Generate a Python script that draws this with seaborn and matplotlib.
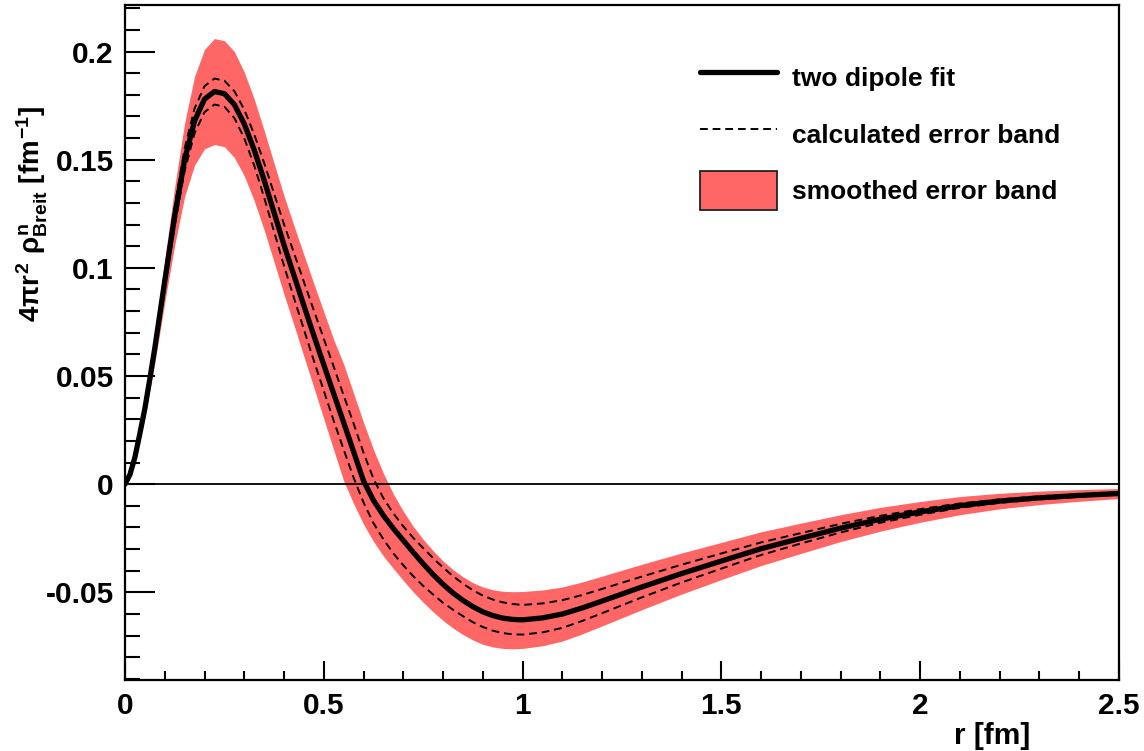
import numpy as np
import matplotlib
matplotlib.use("Agg")
import matplotlib.pyplot as plt
import seaborn as sns
from matplotlib.lines import Line2D
from matplotlib.patches import Patch
from matplotlib.ticker import MultipleLocator

# ---- data ----
r = [0.0, 0.0125, 0.025, 0.0375, 0.05, 0.0625, 0.075, 0.1, 0.125, 0.15, 0.175,
     0.2, 0.225, 0.25, 0.275,
     0.3, 0.325, 0.35, 0.375, 0.4, 0.425, 0.45, 0.475, 0.5, 0.525, 0.55, 0.575,
     0.6, 0.625, 0.65, 0.675, 0.7, 0.725, 0.75, 0.775, 0.8, 0.825, 0.85, 0.875,
     0.9, 0.925, 0.95, 0.975, 1.0, 1.05, 1.1, 1.15, 1.2, 1.3, 1.4, 1.5, 1.6,
     1.7, 1.8, 1.9, 2.0, 2.1, 2.2, 2.3, 2.4, 2.5]
fit = [0.0, 0.0045, 0.0125, 0.0235, 0.035, 0.0488, 0.063, 0.094, 0.124, 0.150,
       0.168, 0.178, 0.1815,
       0.1805, 0.1755, 0.1665, 0.1545, 0.1405, 0.1255, 0.1105, 0.0965, 0.0825,
       0.0687, 0.0552, 0.0418, 0.0285, 0.015, 0.0015, -0.0075, -0.0145,
       -0.0205, -0.026, -0.0315, -0.0368, -0.0418, -0.0463, -0.0503, -0.0537,
       -0.0566, -0.059, -0.0607, -0.0619, -0.0625, -0.0627, -0.0618, -0.0600,
       -0.0572, -0.0540, -0.0475, -0.0413, -0.0355, -0.0298, -0.0250, -0.0203,
       -0.0162, -0.0128, -0.0099, -0.0078, -0.0063, -0.0052, -0.0043]
# smoothed error band: distance of upper / lower edge from the fit
band_up = [0.0, 0.001, 0.002, 0.003, 0.004, 0.0055, 0.007, 0.010, 0.0135, 0.017,
           0.0205, 0.023,
           0.0245, 0.0245, 0.0245, 0.024, 0.0235, 0.023, 0.0228, 0.0228, 0.023,
           0.0235, 0.024, 0.0245, 0.025, 0.027, 0.027, 0.027, 0.0235, 0.0195,
           0.016, 0.0135, 0.012, 0.0113, 0.011, 0.0108, 0.0108, 0.0109, 0.0111,
           0.0115, 0.0119, 0.0124, 0.0128, 0.0131, 0.0129, 0.0125, 0.012,
           0.0115, 0.0105, 0.0095, 0.0086, 0.0078, 0.0070, 0.0062, 0.0055,
           0.0048, 0.0042, 0.0036, 0.0031, 0.0027, 0.0023]
band_low = [0.0, 0.001, 0.002, 0.003, 0.004, 0.0055, 0.007, 0.010, 0.0135, 0.017,
            0.0205, 0.023,
            0.0245, 0.0245, 0.0245, 0.024, 0.0235, 0.023, 0.0228, 0.0228, 0.023,
            0.0235, 0.024, 0.025, 0.026, 0.027, 0.024, 0.020, 0.019, 0.0187,
            0.0185, 0.0185, 0.0183, 0.0178, 0.0172, 0.0167, 0.0162, 0.0158,
            0.0154, 0.015, 0.0145, 0.014, 0.0136, 0.0132, 0.0129, 0.0125,
            0.012, 0.0115, 0.0105, 0.0095, 0.0086, 0.0078, 0.0070, 0.0062,
            0.0055, 0.0048, 0.0042, 0.0036, 0.0031, 0.0027, 0.0023]
# calculated error band (dashed): distance of upper / lower line from the fit
calc_up = [0.0, 0.0004, 0.0008, 0.0011, 0.0015, 0.002, 0.0025, 0.0035, 0.0045,
           0.0052, 0.0057, 0.006,
           0.006, 0.006, 0.0062, 0.0066, 0.0072, 0.008, 0.0088, 0.0096, 0.0104,
           0.011, 0.0116, 0.012, 0.0125, 0.0125, 0.013, 0.013, 0.010, 0.008,
           0.007, 0.0065, 0.0067, 0.0073, 0.0076, 0.0078, 0.0078, 0.0077,
           0.0076, 0.0075, 0.0074, 0.0073, 0.0071, 0.0069, 0.0067, 0.0064,
           0.006, 0.0056, 0.0048, 0.0041, 0.0035, 0.0029, 0.0024, 0.0020,
           0.0016, 0.0013, 0.0010, 0.0008, 0.0007, 0.0006, 0.0005]
calc_low = [0.0, 0.0004, 0.0008, 0.0011, 0.0015, 0.002, 0.0025, 0.0035, 0.0045,
            0.0052, 0.0057, 0.006,
            0.006, 0.006, 0.0062, 0.0066, 0.0072, 0.008, 0.0088, 0.0096, 0.0104,
            0.011, 0.0116, 0.012, 0.0125, 0.0125, 0.012, 0.010, 0.0105, 0.011,
            0.0115, 0.0115, 0.011, 0.0102, 0.0092, 0.0085, 0.0077, 0.0073,
            0.0072, 0.007, 0.007, 0.0069, 0.0069, 0.0068, 0.0067, 0.0064,
            0.006, 0.0056, 0.0048, 0.0041, 0.0035, 0.0029, 0.0024, 0.0020,
            0.0016, 0.0013, 0.0010, 0.0008, 0.0007, 0.0006, 0.0005]
xticks = [0, 0.5, 1, 1.5, 2, 2.5]
xticklabels = ["0", "0.5", "1", "1.5", "2", "2.5"]
yticks = [-0.05, 0, 0.05, 0.1, 0.15, 0.2]
yticklabels = ["-0.05", "0", "0.05", "0.1", "0.15", "0.2"]
legend_labels = ["two dipole fit", "calculated error band", "smoothed error band"]

r_a = np.array(r)
fit_a = np.array(fit)

# ---- style ----
sns.set_style("ticks")
plt.rcParams["font.family"] = ["Liberation Sans", "DejaVu Sans"]
plt.rcParams["font.weight"] = "bold"
plt.rcParams["text.color"] = "black"
plt.rcParams["xtick.color"] = "black"
plt.rcParams["ytick.color"] = "black"
plt.rcParams["axes.edgecolor"] = "black"
plt.rcParams["mathtext.fontset"] = "custom"
plt.rcParams["mathtext.rm"] = "Liberation Sans:bold"
plt.rcParams["mathtext.it"] = "Liberation Sans:bold"
plt.rcParams["mathtext.bf"] = "Liberation Sans:bold"

W, H = 1144, 751
fig = plt.figure(figsize=(W / 100, H / 100), dpi=100)
L, R, T, B = 125, 1119, 5, 680
ax = fig.add_axes([L / W, 1 - B / H, (R - L) / W, (B - T) / H])

red = "#ff6666"
ax.fill_between(r_a, fit_a - np.array(band_low), fit_a + np.array(band_up),
                color=red, lw=0, zorder=1)
ax.axhline(0, color="black", lw=1.3, zorder=2)
dash_style = (0, (4, 2.5))
sns.lineplot(x=r_a, y=fit_a + np.array(calc_up), ax=ax, color="black", lw=1.4,
             linestyle=dash_style, sort=False, estimator=None, zorder=3)
sns.lineplot(x=r_a, y=fit_a - np.array(calc_low), ax=ax, color="black", lw=1.4,
             linestyle=dash_style, sort=False, estimator=None, zorder=3)
sns.lineplot(x=r_a, y=fit_a, ax=ax, color="black", lw=3.8,
             sort=False, estimator=None, zorder=4)

ax.set_xlim(0, 2.5)
ax.set_ylim(-0.0905, 0.2215)
ax.set_xticks(xticks)
ax.set_xticklabels(xticklabels)
ax.set_yticks(yticks)
ax.set_yticklabels(yticklabels)
ax.xaxis.set_minor_locator(MultipleLocator(0.1))
ax.yaxis.set_minor_locator(MultipleLocator(0.01))
ax.tick_params(axis="y", which="major", direction="in", length=21.5, width=1.5,
               labelsize=21.5, pad=8, right=False, left=True, colors="black")
ax.tick_params(axis="y", which="minor", direction="in", length=10.8, width=1.5,
               right=False, left=True, colors="black")
ax.tick_params(axis="x", which="major", direction="in", length=13.7, width=1.5,
               labelsize=21.5, pad=9, top=False, bottom=True, colors="black")
ax.tick_params(axis="x", which="minor", direction="in", length=6.8, width=1.5,
               top=False, bottom=True, colors="black")
for lab in ax.get_xticklabels() + ax.get_yticklabels():
    lab.set_fontweight("bold")
for sp in ax.spines.values():
    sp.set_linewidth(1.6)
    sp.set_visible(True)
    sp.set_color("black")
ax.set_xlabel("")
ax.set_ylabel("")

fig.text(1030 / W, 1 - 736 / H, "r [fm]", ha="right", va="center",
         fontsize=21.5, fontweight="bold", color="black")
fig.text(32 / W, 1 - 214 / H,
         r"$4\pi r^{2}\ \rho^{n}_{Breit}\ [fm^{-1}]$",
         rotation=90, ha="center", va="center", fontsize=20, color="black")

handles = [Line2D([], [], color="black", lw=3.8),
           Line2D([], [], color="black", lw=1.4, linestyle=dash_style),
           Patch(facecolor=red, edgecolor="#222222", lw=1.3)]
ax_w, ax_h = R - L, B - T
fs_px = 19 * 100 / 72
leg = ax.legend(handles, legend_labels, loc="upper left",
                bbox_to_anchor=((700 - L) / ax_w, (B - 58) / ax_h),
                frameon=False, borderpad=0, borderaxespad=0,
                handlelength=77 / fs_px, handleheight=1.90,
                handletextpad=15 / fs_px, labelspacing=17.5 / fs_px,
                prop={"weight": "bold", "size": 19})
for t in leg.get_texts():
    t.set_color("black")

fig.savefig("out.png", dpi=100)
